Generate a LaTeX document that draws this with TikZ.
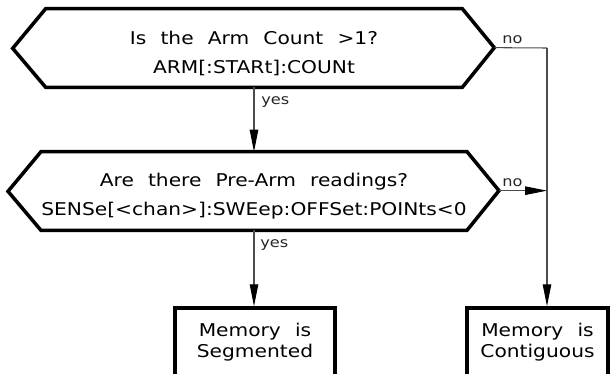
\documentclass[tikz,border=0pt]{standalone}
\usepackage{fontspec}
\setmainfont{DejaVu Sans}[FakeStretch=1.15, WordSpace=2.2]
\usetikzlibrary{arrows.meta}

\tikzset{
    query/.style={minimum width=8.32cm, minimum height=1.56cm, inner sep=0pt, align=center,
        font=\fontsize{10}{16.4}\selectfont, text height=30pt},
    outline/.style={line width=2pt, line join=miter},
    result/.style={draw, line width=2pt, align=center, inner sep=0pt, font=\fontsize{10}{12}\selectfont},
    flow/.style={line width=0.6pt, black!70},
    tip/.style={-{Triangle[length=0.44cm,width=0.17cm,color=black]}},
    answer/.style={anchor=base west, inner sep=0pt, black!85, font=\fontsize{8}{9}\selectfont}
}

\begin{document}
\begin{tikzpicture}[x=0.02cm, y=-0.02cm]
    \useasboundingbox (0,0) rectangle (613,373);
    \node[query] (armcount) at (254,48) {Is the Arm Count >1?\\ARM[:STARt]:COUNt};
    \draw[outline] (armcount.north west) -- (armcount.north east) -- ++(32,39) coordinate (armtip)
        -- (armcount.south east) -- (armcount.south west) -- ++(-33,-39) -- cycle;
    \node[query] (prearm) at (254,191) {Are there Pre-Arm readings?\\SENSe[<chan>]:SWEep:OFFSet:POINts<0};
    \draw[outline] (prearm.north west) -- (prearm.north east) -- ++(32,39) coordinate (pretip)
        -- (prearm.south east) -- (prearm.south west) -- ++(-33,-39) -- cycle;
    \node[result, minimum width=3.2cm, minimum height=1.36cm] (segmented) at (255,342) {Memory is\\Segmented};
    \node[result, minimum width=2.82cm, minimum height=1.36cm] (contiguous) at (537.5,342) {Memory is\\Contiguous};
    \coordinate (turn) at (547,48);

    \draw[flow] (armtip) -- (turn);
    \draw[flow,tip] (turn) -- (turn |- contiguous.north);
    \draw[flow,tip] (armcount.south) -- (prearm.north);
    \draw[flow,tip] (pretip) -- (pretip -| turn);
    \draw[flow,tip] (prearm.south) -- (prearm.south |- segmented.north);

    \node[answer] (no1) at (502,43) {no};
    \node[answer] (yes1) at (261,104) {yes};
    \node[answer] (no2) at (502,186) {no};
    \node[answer] (yes2) at (260,247) {yes};
\end{tikzpicture}
\end{document}
